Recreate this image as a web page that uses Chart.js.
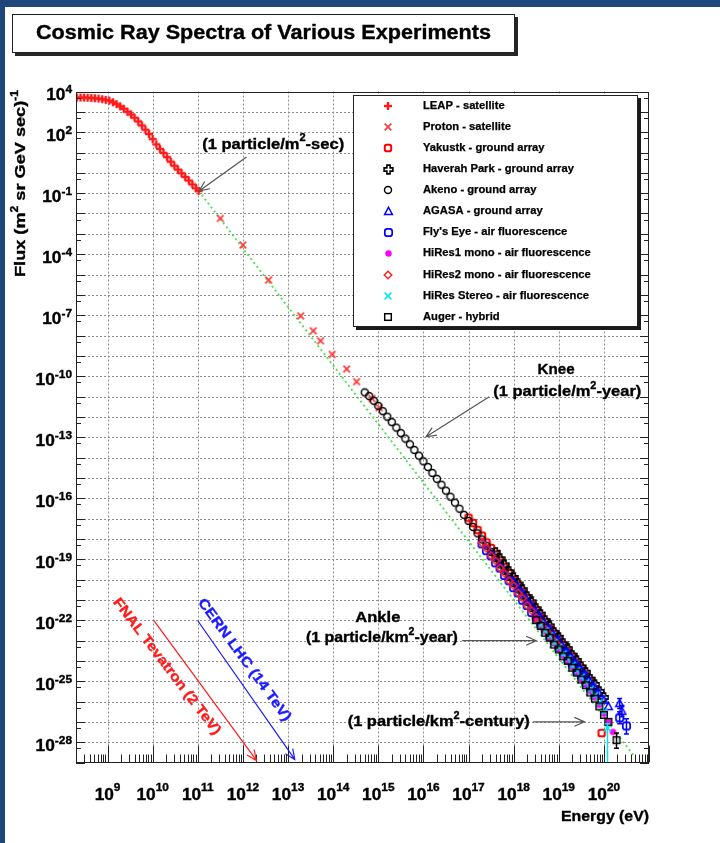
<!DOCTYPE html>
<html>
<head>
<meta charset="utf-8">
<title>Cosmic Ray Spectra of Various Experiments</title>
<script src="https://cdn.jsdelivr.net/npm/chart.js@4.4.1/dist/chart.umd.min.js"></script>
<style>
  html, body { margin: 0; padding: 0; background: #ffffff; }
  canvas { display: block; }
</style>
</head>
<body>
<canvas id="spectrum" width="720" height="843"></canvas>
<script>
// Energies are log10(E / eV); fluxes are log10(F / (m^2 sr GeV s)^-1).

const leapLogE = [8.32, 8.40, 8.48, 8.56, 8.64, 8.72, 8.80, 8.88, 8.96, 9.04, 9.12, 9.20, 9.28, 9.36, 9.44, 9.52, 9.60, 9.68, 9.76, 9.84, 9.92, 10.00, 10.08, 10.16, 10.24, 10.32, 10.40, 10.48, 10.56, 10.64, 10.72, 10.80, 10.88, 10.96, 11.02];
const leapLogF = [3.70, 3.70, 3.70, 3.69, 3.68, 3.67, 3.65, 3.62, 3.59, 3.55, 3.47, 3.38, 3.27, 3.15, 3.01, 2.87, 2.71, 2.53, 2.33, 2.12, 1.91, 1.66, 1.40, 1.18, 0.98, 0.77, 0.55, 0.35, 0.16, -0.02, -0.20, -0.38, -0.57, -0.76, -0.89];

const protonLogE = [11.50, 12.00, 12.57, 13.28, 13.56, 13.72, 13.98, 14.30, 14.52, 14.86, 15.02];
const protonLogF = [-2.24, -3.55, -5.27, -7.04, -7.77, -8.26, -8.93, -9.65, -10.27, -11.10, -11.55];

const yakutskLogE = [17.0, 17.1, 17.2, 17.3, 17.4, 17.5, 17.6, 17.7, 17.8, 17.9, 18.0, 18.1, 18.2, 18.3, 18.4, 18.5, 18.6, 18.7, 18.8, 18.9, 19.0, 19.1, 19.2, 19.3, 19.4, 19.5, 19.6, 19.7, 19.8, 19.95];
const yakutskLogF = [-16.96, -17.22, -17.56, -17.84, -18.18, -18.45, -18.78, -19.06, -19.40, -19.68, -20.02, -20.30, -20.62, -20.90, -21.24, -21.50, -21.84, -22.08, -22.42, -22.66, -22.96, -23.22, -23.54, -23.78, -24.12, -24.36, -24.72, -24.98, -25.40, -27.55];

const haverahLogE = [17.6, 17.7, 17.8, 17.9, 18.0, 18.1, 18.2, 18.3, 18.4, 18.5, 18.6, 18.7, 18.8, 18.9, 19.0, 19.1, 19.2, 19.3, 19.4, 19.5, 19.6, 19.7, 19.8, 19.9, 20.0];
const haverahLogF = [-18.66, -18.98, -19.28, -19.62, -19.90, -20.22, -20.50, -20.84, -21.10, -21.44, -21.70, -22.02, -22.28, -22.60, -22.84, -23.16, -23.40, -23.72, -23.98, -24.30, -24.56, -24.90, -25.16, -25.50, -25.80];

const akenoLogE = [14.7, 14.8, 14.9, 15.0, 15.1, 15.2, 15.3, 15.4, 15.5, 15.6, 15.7, 15.8, 15.9, 16.0, 16.1, 16.2, 16.3, 16.4, 16.5, 16.6, 16.7, 16.8, 16.9, 17.0, 17.1, 17.2, 17.3, 17.4, 17.5, 17.6, 17.7, 17.8, 17.9, 18.0, 18.1, 18.2, 18.3, 18.4, 18.5, 18.6, 18.7, 18.8, 18.9, 19.0, 19.1, 19.2, 19.3, 19.4, 19.5, 19.6];
const akenoLogF = [-10.80, -10.98, -11.21, -11.46, -11.72, -11.99, -12.26, -12.53, -12.80, -13.07, -13.35, -13.63, -13.91, -14.19, -14.47, -14.76, -15.05, -15.34, -15.63, -15.93, -16.22, -16.52, -16.82, -17.12, -17.42, -17.73, -18.03, -18.34, -18.65, -18.95, -19.26, -19.57, -19.88, -20.18, -20.49, -20.79, -21.10, -21.40, -21.70, -22.00, -22.28, -22.58, -22.86, -23.12, -23.42, -23.70, -23.98, -24.28, -24.55, -24.85];

const agasaLogE = [18.0, 18.1, 18.2, 18.3, 18.4, 18.5, 18.6, 18.7, 18.8, 18.9, 19.0, 19.1, 19.2, 19.3, 19.4, 19.5, 19.6, 19.7, 19.8, 19.9, 20.0, 20.1, 20.35, 20.40];
const agasaLogF = [-20.10, -20.40, -20.68, -21.02, -21.30, -21.60, -21.88, -22.20, -22.46, -22.78, -23.00, -23.34, -23.58, -23.90, -24.16, -24.46, -24.72, -25.06, -25.32, -25.62, -25.94, -26.25, -26.10, -26.48];
const agasaErrors = [[22, -26.35, -25.85], [23, -26.75, -26.20]];

const flysEyeLogE = [17.3, 17.4, 17.5, 17.6, 17.7, 17.8, 17.9, 18.0, 18.1, 18.2, 18.3, 18.4, 18.5, 18.6, 18.7, 18.8, 18.9, 19.0, 19.1, 19.2, 19.3, 19.4, 19.5, 19.6, 19.7, 19.8, 20.35, 20.5];
const flysEyeLogF = [-18.25, -18.58, -18.84, -19.18, -19.44, -19.80, -20.06, -20.40, -20.66, -21.02, -21.28, -21.62, -21.88, -22.22, -22.46, -22.80, -23.04, -23.34, -23.60, -23.92, -24.16, -24.50, -24.74, -25.08, -25.34, -25.68, -26.80, -27.20];
const flysEyeErrors = [[26, -27.10, -26.50], [27, -27.60, -26.85]];

const hires1LogE = [18.5, 18.6, 18.7, 18.8, 18.9, 19.0, 19.1, 19.2, 19.3, 19.4, 19.5, 19.6, 19.7, 19.8, 19.9, 20.0, 20.1, 20.2];
const hires1LogF = [-22.00, -22.32, -22.56, -22.90, -23.12, -23.40, -23.74, -23.98, -24.30, -24.56, -24.88, -25.14, -25.48, -25.80, -26.16, -26.60, -27.00, -27.50];

const hires2LogE = [17.3, 17.4, 17.5, 17.6, 17.7, 17.8, 17.9, 18.0, 18.1, 18.2, 18.3, 18.4, 18.5, 18.6, 18.7, 18.8, 18.9, 19.0];
const hires2LogF = [-18.20, -18.47, -18.82, -19.08, -19.43, -19.70, -20.05, -20.31, -20.66, -20.92, -21.27, -21.53, -21.87, -22.12, -22.45, -22.70, -23.03, -23.26];

const stereoLogE = [18.6, 18.7, 18.8, 18.9, 19.0, 19.1, 19.2, 19.3, 19.4, 19.5, 19.6, 19.7, 19.8, 19.9, 20.0, 20.08];
const stereoLogF = [-22.22, -22.52, -22.78, -23.10, -23.34, -23.66, -23.90, -24.22, -24.48, -24.80, -25.06, -25.40, -25.70, -26.06, -26.50, -27.30];
const stereoErrors = [[15, -30.00, -27.10]];

const augerLogE = [18.5, 18.6, 18.7, 18.8, 18.9, 19.0, 19.1, 19.2, 19.3, 19.4, 19.5, 19.6, 19.7, 19.8, 19.9, 20.0, 20.1, 20.28];
const augerLogF = [-22.00, -22.28, -22.62, -22.86, -23.20, -23.44, -23.78, -24.00, -24.34, -24.58, -24.92, -25.20, -25.56, -25.86, -26.24, -26.66, -27.00, -27.90];
const augerErrors = [[17, -28.30, -27.55]];

// Reference power law drawn as a dotted guide
const powerLawLogE = [11.02, 20.70];
const powerLawLogF = [-0.89, -28.77];

// Axis labels
const xTickExponents = [9, 10, 11, 12, 13, 14, 15, 16, 17, 18, 19, 20];
const yTickExponents = [4, 2, -1, -4, -7, -10, -13, -16, -19, -22, -25, -28];

const FONT = '"Liberation Sans", Arial, Helvetica, sans-serif';
const EDGE_BLUE = '#1f477b';

// ---------- marker glyphs ----------
function glyph(size, paint) {
  const c = document.createElement('canvas');
  c.width = size; c.height = size;
  const g = c.getContext('2d');
  paint(g, size / 2);
  return c;
}
function roundedRect(g, x, y, w, h, r) {
  g.beginPath();
  g.moveTo(x + r, y);
  g.lineTo(x + w - r, y); g.quadraticCurveTo(x + w, y, x + w, y + r);
  g.lineTo(x + w, y + h - r); g.quadraticCurveTo(x + w, y + h, x + w - r, y + h);
  g.lineTo(x + r, y + h); g.quadraticCurveTo(x, y + h, x, y + h - r);
  g.lineTo(x, y + r); g.quadraticCurveTo(x, y, x + r, y);
  g.closePath();
}
function crossX(g, c, r) {
  g.beginPath();
  g.moveTo(c - r, c - r); g.lineTo(c + r, c + r);
  g.moveTo(c + r, c - r); g.lineTo(c - r, c + r);
  g.stroke();
}
const markers = {
  leap: glyph(10, (g, c) => { g.fillStyle = '#ff1a1a'; g.fillRect(c - 1.2, 1, 2.4, 8); g.fillRect(1, c - 1.2, 8, 2.4); }),
  proton: glyph(10, (g, c) => { g.strokeStyle = '#ff3b3b'; g.lineWidth = 1.7; crossX(g, c, 3.3); }),
  yakutsk: glyph(10, (g, c) => { g.strokeStyle = '#ff0000'; g.lineWidth = 2; roundedRect(g, c - 3.2, c - 3.2, 6.4, 6.4, 1.8); g.stroke(); }),
  haverah: glyph(11, (g, c) => {
    const a = 1.6, L = 4.4;
    g.beginPath();
    g.moveTo(c - a, c - L); g.lineTo(c + a, c - L); g.lineTo(c + a, c - a); g.lineTo(c + L, c - a);
    g.lineTo(c + L, c + a); g.lineTo(c + a, c + a); g.lineTo(c + a, c + L); g.lineTo(c - a, c + L);
    g.lineTo(c - a, c + a); g.lineTo(c - L, c + a); g.lineTo(c - L, c - a); g.lineTo(c - a, c - a);
    g.closePath(); g.strokeStyle = '#000'; g.lineWidth = 1.6; g.stroke();
  }),
  akeno: glyph(10, (g, c) => { g.strokeStyle = '#000'; g.lineWidth = 1.45; g.beginPath(); g.arc(c, c, 3.5, 0, Math.PI * 2); g.stroke(); }),
  agasa: glyph(11, (g, c) => { g.strokeStyle = '#0000ff'; g.lineWidth = 1.5; g.beginPath(); g.moveTo(c, c - 4.2); g.lineTo(c + 3.9, c + 3.0); g.lineTo(c - 3.9, c + 3.0); g.closePath(); g.stroke(); }),
  flysEye: glyph(11, (g, c) => { g.strokeStyle = '#0000ff'; g.lineWidth = 1.7; roundedRect(g, c - 3.7, c - 3.7, 7.4, 7.4, 2.5); g.stroke(); }),
  hires1: glyph(9, (g, c) => { g.fillStyle = '#ff00ff'; g.beginPath(); g.arc(c, c, 3.2, 0, Math.PI * 2); g.fill(); }),
  hires2: glyph(10, (g, c) => { g.strokeStyle = '#ff2222'; g.lineWidth = 1.5; g.beginPath(); g.moveTo(c, c - 3.8); g.lineTo(c + 3.8, c); g.lineTo(c, c + 3.8); g.lineTo(c - 3.8, c); g.closePath(); g.stroke(); }),
  stereo: glyph(10, (g, c) => { g.strokeStyle = '#00e8f0'; g.lineWidth = 1.5; crossX(g, c, 3.4); }),
  auger: glyph(10, (g, c) => { g.strokeStyle = '#000'; g.lineWidth = 1.45; g.strokeRect(c - 3.3, c - 3.3, 6.6, 6.6); })
};

const series = [
  { label: 'LEAP - satellite', e: leapLogE, f: leapLogF, marker: markers.leap, color: '#ff0000' },
  { label: 'Proton - satellite', e: protonLogE, f: protonLogF, marker: markers.proton, color: '#ff0000' },
  { label: 'Yakustk - ground array', e: yakutskLogE, f: yakutskLogF, marker: markers.yakutsk, color: '#ff0000' },
  { label: 'Haverah Park - ground array', e: haverahLogE, f: haverahLogF, marker: markers.haverah, color: '#000000' },
  { label: 'Akeno - ground array', e: akenoLogE, f: akenoLogF, marker: markers.akeno, color: '#000000' },
  { label: 'AGASA - ground array', e: agasaLogE, f: agasaLogF, marker: markers.agasa, color: '#0000ff', errors: agasaErrors },
  { label: "Fly's Eye - air fluorescence", e: flysEyeLogE, f: flysEyeLogF, marker: markers.flysEye, color: '#0000ff', errors: flysEyeErrors },
  { label: 'HiRes1 mono - air fluorescence', e: hires1LogE, f: hires1LogF, marker: markers.hires1, color: '#ff00ff' },
  { label: 'HiRes2 mono - air fluorescence', e: hires2LogE, f: hires2LogF, marker: markers.hires2, color: '#ff0000' },
  { label: 'HiRes Stereo - air fluorescence', e: stereoLogE, f: stereoLogF, marker: markers.stereo, color: '#00e8f0', errors: stereoErrors },
  { label: 'Auger - hybrid', e: augerLogE, f: augerLogF, marker: markers.auger, color: '#000000', errors: augerErrors }
];

const datasets = series.map((s, i) => ({
  label: s.label,
  data: s.e.map((x, k) => ({ x, y: s.f[k] })),
  pointStyle: s.marker,
  pointRadius: 4,
  showLine: false,
  order: 20 - i,
  errorBars: s.errors || [],
  errorColor: s.color
}));
datasets.push({
  label: 'power law',
  data: powerLawLogE.map((x, k) => ({ x, y: powerLawLogF[k] })),
  showLine: true,
  pointRadius: 0,
  borderColor: '#4fe24f',
  borderWidth: 1.9,
  borderDash: [2, 3],
  order: 40
});

// ---------- text helpers ----------
function drawRich(ctx, parts, x, y, o) {
  const size = o.size;
  const supSize = o.supSize || Math.round(size * 0.68);
  const rise = o.rise != null ? o.rise : size * 0.38;
  ctx.save();
  ctx.translate(x, y);
  if (o.rot) ctx.rotate(o.rot);
  const widths = parts.map(([t, sup]) => {
    ctx.font = 'bold ' + (sup ? supSize : size) + 'px ' + FONT;
    return ctx.measureText(t).width;
  });
  const w = widths.reduce((a, b) => a + b, 0);
  const sx = o.width ? o.width / w : (o.stretch || 1);
  ctx.scale(sx, 1);
  let cx = o.align === 'right' ? -w : (o.align === 'left' ? 0 : -w / 2);
  ctx.fillStyle = o.color || '#000';
  ctx.strokeStyle = o.color || '#000';
  ctx.lineWidth = o.heavy || 0.35;
  ctx.textBaseline = 'middle';
  ctx.textAlign = 'left';
  parts.forEach(([t, sup], i) => {
    ctx.font = 'bold ' + (sup ? supSize : size) + 'px ' + FONT;
    ctx.fillText(t, cx, sup ? -rise : 0);
    ctx.strokeText(t, cx, sup ? -rise : 0);
    cx += widths[i];
  });
  ctx.restore();
}

function arrow(ctx, x1, y1, x2, y2, color) {
  const ang = Math.atan2(y2 - y1, x2 - x1);
  const head = 11, spread = 0.42;
  ctx.save();
  ctx.strokeStyle = color;
  ctx.lineWidth = 1.2;
  ctx.beginPath();
  ctx.moveTo(x1, y1); ctx.lineTo(x2, y2);
  ctx.moveTo(x2 - head * Math.cos(ang - spread), y2 - head * Math.sin(ang - spread));
  ctx.lineTo(x2, y2);
  ctx.lineTo(x2 - head * Math.cos(ang + spread), y2 - head * Math.sin(ang + spread));
  ctx.stroke();
  ctx.restore();
}

// ---------- annotations (anchored in data coordinates) ----------
const notes = [
  { parts: [['(1 particle/m', 0], ['2', 1], ['-sec)', 0]], e: 12.67, f: 1.40, width: 142 },
  { parts: [['Knee', 0]], e: 18.94, f: -9.71, width: 37 },
  { parts: [['(1 particle/m', 0], ['2', 1], ['-year)', 0]], e: 19.19, f: -10.77, width: 148 },
  { parts: [['Ankle', 0]], e: 14.99, f: -21.90, width: 45 },
  { parts: [['(1 particle/km', 0], ['2', 1], ['-year)', 0]], e: 15.08, f: -22.88, width: 152 },
  { parts: [['(1 particle/km', 0], ['2', 1], ['-century)', 0]], e: 16.34, f: -27.00, width: 182 }
];
const pointers = [
  { from: [12.08, 0.78], to: [11.03, -0.89], color: '#555555' },
  { from: [17.46, -11.01], to: [16.06, -12.98], color: '#555555' },
  { from: [16.86, -23.01], to: [18.50, -23.01], color: '#555555' },
  { from: [18.43, -27.00], to: [19.57, -27.00], color: '#555555' }
];
const colliders = [
  { text: 'FNAL Tevatron (2 TeV)', color: '#ff1a1a', from: [10.02, -22.0], to: [12.30, -28.9], label: [10.31, -24.28], length: 168 },
  { text: 'CERN LHC (14 TeV)', color: '#1a1aff', from: [11.00, -22.03], to: [13.15, -28.85], label: [12.03, -23.96], length: 148 }
];

// ---------- plot decoration plugin ----------
const decor = {
  id: 'decor',
  beforeDraw(chart) {
    const ctx = chart.ctx;
    ctx.save();
    ctx.fillStyle = '#ffffff';
    ctx.fillRect(0, 0, chart.width, chart.height);
    ctx.fillStyle = EDGE_BLUE;
    ctx.fillRect(0, 0, chart.width, 7);
    ctx.fillRect(0, 0, 5, chart.height);
    ctx.restore();
  },
  beforeDatasetsDraw(chart) {
    const { ctx, chartArea: a, scales: { x, y } } = chart;
    ctx.save();
    ctx.strokeStyle = '#8e8e8e';
    ctx.lineWidth = 1;
    ctx.setLineDash([2, 2]);
    for (let e = Math.ceil(x.min); e <= Math.floor(x.max); e++) {
      const px = Math.round(x.getPixelForValue(e)) + 0.5;
      if (px <= a.left + 1 || px >= a.right - 1) continue;
      ctx.beginPath(); ctx.moveTo(px, a.top); ctx.lineTo(px, a.bottom); ctx.stroke();
    }
    for (let e = Math.ceil(y.min); e <= Math.floor(y.max); e++) {
      const py = Math.round(y.getPixelForValue(e)) + 0.5;
      if (py <= a.top + 1 || py >= a.bottom - 1) continue;
      ctx.beginPath(); ctx.moveTo(a.left, py); ctx.lineTo(a.right, py); ctx.stroke();
    }
    ctx.restore();
  },
  afterDatasetsDraw(chart) {
    const { ctx, chartArea: a, scales: { x, y } } = chart;

    // error bars
    ctx.save();
    ctx.beginPath(); ctx.rect(a.left, a.top, a.right - a.left, a.bottom - a.top); ctx.clip();
    chart.data.datasets.forEach(ds => {
      (ds.errorBars || []).forEach(([i, lo, hi]) => {
        const p = ds.data[i];
        const px = x.getPixelForValue(p.x);
        const pLo = y.getPixelForValue(lo), pHi = y.getPixelForValue(hi);
        ctx.strokeStyle = ds.errorColor; ctx.lineWidth = 1.5;
        ctx.beginPath();
        ctx.moveTo(px, pLo); ctx.lineTo(px, pHi);
        ctx.moveTo(px - 2.5, pHi); ctx.lineTo(px + 2.5, pHi);
        if (lo > y.min) { ctx.moveTo(px - 2.5, pLo); ctx.lineTo(px + 2.5, pLo); }
        ctx.stroke();
      });
    });
    ctx.restore();

    // frame
    ctx.save();
    ctx.strokeStyle = '#222';
    ctx.lineWidth = 1;
    ctx.strokeRect(Math.round(a.left) + 0.5, Math.round(a.top) + 0.5, Math.round(a.right - a.left) - 1, Math.round(a.bottom - a.top) - 1);

    // x ticks: decades and 2..9 sub-divisions
    ctx.beginPath();
    for (let d = Math.floor(x.min); d <= Math.ceil(x.max); d++) {
      for (let m = 1; m <= 9; m++) {
        const v = d + Math.log10(m);
        if (v < x.min || v > x.max) continue;
        const px = Math.round(x.getPixelForValue(v)) + 0.5;
        const len = m === 1 ? 17 : 8;
        ctx.moveTo(px, a.bottom); ctx.lineTo(px, a.bottom - len);
      }
    }
    // y ticks on both sides
    for (let d = Math.floor(y.min); d <= Math.ceil(y.max); d++) {
      [[d, 9], [d + Math.log10(5), 5]].forEach(([v, len]) => {
        if (v < y.min || v > y.max) return;
        const py = Math.round(y.getPixelForValue(v)) + 0.5;
        ctx.moveTo(a.left, py); ctx.lineTo(a.left + len, py);
        ctx.moveTo(a.right, py); ctx.lineTo(a.right - len, py);
      });
    }
    ctx.stroke();
    ctx.restore();

    // tick labels
    xTickExponents.forEach(e => {
      drawRich(ctx, [['10', 0], [String(e), 1]], x.getPixelForValue(e), a.bottom + 33.5, { size: 16, supSize: 11, rise: 8, stretch: 1.08 });
    });
    yTickExponents.forEach(e => {
      drawRich(ctx, [['10', 0], [String(e), 1]], a.left - 4, y.getPixelForValue(e) + 4.5, { size: 16, supSize: 11, rise: 6, stretch: 1.08, align: 'right' });
    });

    // axis titles
    drawRich(ctx, [['Energy (eV)', 0]], a.right, a.bottom + 54, { size: 15, width: 88, align: 'right' });
    drawRich(ctx, [['Flux (m', 0], ['2', 1], [' sr GeV sec)', 0], ['-1', 1]], 21, 183.5, { size: 15, supSize: 10, rise: 6, width: 187, rot: -Math.PI / 2 });

    // annotations
    pointers.forEach(p => arrow(ctx, x.getPixelForValue(p.from[0]), y.getPixelForValue(p.from[1]), x.getPixelForValue(p.to[0]), y.getPixelForValue(p.to[1]), p.color));
    notes.forEach(n => drawRich(ctx, n.parts, x.getPixelForValue(n.e), y.getPixelForValue(n.f), { size: 15, supSize: 10, rise: 6, width: n.width }));
    colliders.forEach(c => {
      const x1 = x.getPixelForValue(c.from[0]), y1 = y.getPixelForValue(c.from[1]);
      const x2 = x.getPixelForValue(c.to[0]), y2 = y.getPixelForValue(c.to[1]);
      arrow(ctx, x1, y1, x2, y2, c.color);
      const rot = Math.atan2(y2 - y1, x2 - x1) - 0.02;
      drawRich(ctx, [[c.text, 0]], x.getPixelForValue(c.label[0]), y.getPixelForValue(c.label[1]), { size: 14, width: c.length, rot, color: c.color });
    });

    // legend box
    const L = { left: 353, top: 95, right: 638, bottom: 327, row0: 105.7, step: 21.1, markX: 388, textX: 423 };
    ctx.save();
    ctx.fillStyle = '#1a1a1a';
    ctx.fillRect(L.left + 3, L.top + 3, L.right - L.left, L.bottom - L.top);
    ctx.fillStyle = '#ffffff';
    ctx.fillRect(L.left, L.top, L.right - L.left, L.bottom - L.top);
    ctx.strokeStyle = '#222';
    ctx.lineWidth = 1;
    ctx.strokeRect(L.left + 0.5, L.top + 0.5, L.right - L.left - 1, L.bottom - L.top - 1);
    series.forEach((s, i) => {
      const yy = L.row0 + i * L.step;
      ctx.drawImage(s.marker, Math.round(L.markX - s.marker.width / 2), Math.round(yy - s.marker.height / 2));
      drawRich(ctx, [[s.label, 0]], L.textX, yy, { size: 11, align: 'left', stretch: 1.02, heavy: 0.25 });
    });
    ctx.restore();
  },
  afterDraw(chart) {
    const ctx = chart.ctx;
    // title box
    const T = { left: 12, top: 14, right: 515, bottom: 53 };
    ctx.save();
    ctx.fillStyle = '#262626';
    ctx.fillRect(T.left + 3, T.top + 3, T.right - T.left, T.bottom - T.top);
    ctx.fillStyle = '#ffffff';
    ctx.fillRect(T.left, T.top, T.right - T.left, T.bottom - T.top);
    ctx.strokeStyle = '#222';
    ctx.lineWidth = 1;
    ctx.strokeRect(T.left + 0.5, T.top + 0.5, T.right - T.left - 1, T.bottom - T.top - 1);
    ctx.restore();
    drawRich(ctx, [['Cosmic Ray Spectra of Various Experiments', 0]], (T.left + T.right) / 2, 33, { size: 20, width: 455 });
  }
};

new Chart(document.getElementById('spectrum'), {
  type: 'scatter',
  data: { datasets },
  options: {
    responsive: false,
    animation: false,
    devicePixelRatio: 1,
    events: [],
    layout: { padding: { left: 76, top: 91.5, right: 71, bottom: 80.5 } },
    scales: {
      x: { type: 'linear', min: 8.301, max: 21.0, display: false },
      y: { type: 'linear', min: -29, max: 4, display: false }
    },
    plugins: {
      legend: { display: false },
      title: { display: false },
      tooltip: { enabled: false }
    }
  },
  plugins: [decor]
});
</script>
</body>
</html>
